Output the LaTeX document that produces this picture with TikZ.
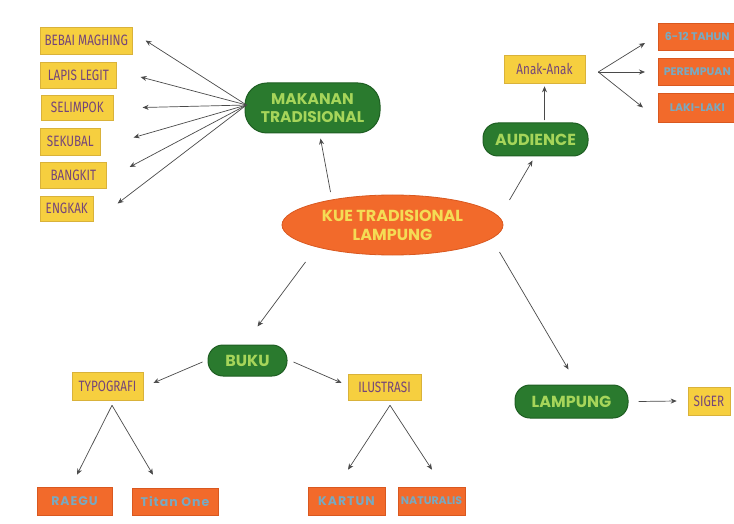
\documentclass[tikz,border=0pt]{standalone}
\usepackage{fontspec}
\setmainfont{Fira Sans}
\newfontfamily\popp{Poppins}
\newfontfamily\poppw[LetterSpace=8]{Poppins}
\newfontfamily\narrowf[FakeStretch=0.78]{Fira Sans}
\usetikzlibrary{shapes.geometric,arrows.meta,calc}
\definecolor{ylw}{HTML}{F6CF3F}
\definecolor{ylwb}{HTML}{D9B23A}
\definecolor{org}{HTML}{F26A2B}
\definecolor{orgb}{HTML}{D9581F}
\definecolor{grn}{HTML}{2A7A2E}
\definecolor{grnb}{HTML}{1E5E22}
\definecolor{lgrn}{HTML}{A6D55A}
\definecolor{ptxt}{HTML}{74457A}
\definecolor{btxt}{HTML}{79A9C0}
\definecolor{ytxt}{HTML}{F4DC55}
\definecolor{lin}{HTML}{4A4A4A}
\tikzset{
  ybox/.style={draw=ylwb, fill=ylw, line width=0.6pt, text=ptxt, font=\narrowf\fontsize{15}{16}\selectfont, inner sep=0pt},
  obox/.style={draw=orgb, fill=org, line width=0.6pt, text=btxt, font=\poppw\bfseries\fontsize{12.5}{14}\selectfont, inner sep=0pt},
  rbox/.style={obox, minimum width=78pt, anchor=west, font=\popp\bfseries\fontsize{11}{12}\selectfont},
  gbox/.style={draw=grnb, fill=grn, line width=1pt, text=lgrn, font=\popp\bfseries\fontsize{16}{18}\selectfont, rounded corners=15pt, inner sep=0pt, align=center},
  arr/.style={-{Stealth[length=6pt,width=5pt]}, draw=lin, line width=0.7pt}
}
\begin{document}
\begin{tikzpicture}[x=1pt,y=-1pt]
\clip (0,0) rectangle (734,524);
\fill[white] (0,0) rectangle (734,524);
% left boxes
\node[ybox, minimum width=92pt, minimum height=27pt, anchor=west] (b1) at (40,40.5) {BEBAI MAGHING};
\node[ybox, minimum width=76pt, minimum height=26pt, anchor=west] (b2) at (40,75) {LAPIS LEGIT};
\node[ybox, minimum width=72pt, minimum height=25pt, anchor=west] (b3) at (41,107.5) {SELIMPOK};
\node[ybox, minimum width=60pt, minimum height=27pt, anchor=west] (b4) at (40,141.5) {SEKUBAL};
\node[ybox, minimum width=66pt, minimum height=26pt, anchor=west] (b5) at (40,175) {BANGKIT};
\node[ybox, minimum width=53pt, minimum height=25pt, anchor=west] (b6) at (40,208.5) {ENGKAK};
% main nodes
\node[gbox, minimum width=135pt, minimum height=50pt, rounded corners=22pt, font=\popp\bfseries\fontsize{15.5}{18}\selectfont] (mak) at (312.5,108) {MAKANAN\\TRADISIONAL};
\node[ellipse, draw=orgb, fill=org, line width=0.8pt, minimum width=221pt, minimum height=60pt, inner sep=0pt, text=ytxt, font=\popp\bfseries\fontsize{16}{19}\selectfont, align=center] (ell) at (392.5,225) {KUE TRADISIONAL\\LAMPUNG};
\node[gbox, minimum width=105pt, minimum height=33pt] (aud) at (535.5,139.5) {AUDIENCE};
\node[ybox, minimum width=81pt, minimum height=28pt] (anak) at (544.5,69) {Anak-Anak};
\node[rbox, minimum height=27pt] (r1) at (658,36.5) {6-12 TAHUN};
\node[rbox, minimum height=27pt] (r2) at (658,71.5) {PEREMPUAN};
\node[rbox, minimum height=29pt] (r3) at (658,107.5) {LAKI-LAKI};
\node[gbox, minimum width=79pt, minimum height=31pt] (buku) at (247.5,360.5) {BUKU};
\node[ybox, minimum width=71pt, minimum height=28pt] (typo) at (107.5,386) {TYPOGRAFI};
\node[ybox, minimum width=73pt, minimum height=26pt] (ilus) at (384.5,387) {ILUSTRASI};
\node[gbox, minimum width=113pt, minimum height=33pt] (lamp) at (571.5,401.5) {LAMPUNG};
\node[ybox, minimum width=42pt, minimum height=28pt] (siger) at (709,401) {SIGER};
\node[obox, minimum width=75pt, minimum height=28pt] (raegu) at (74.5,501) {RAEGU};
\node[obox, minimum width=86pt, minimum height=27pt] (titan) at (175,501.5) {Titan One};
\node[obox, minimum width=77pt, minimum height=28pt] (kartun) at (346.5,501) {KARTUN};
\node[obox, minimum width=67pt, minimum height=28pt, font=\popp\bfseries\fontsize{11}{12}\selectfont] (nat) at (431.5,501) {NATURALIS};
% arrows from makanan
\draw[arr] ($(mak.west)+(2,-3)$) -- ($(b1.east)+(13,0)$);
\draw[arr] ($(mak.west)+(2,-3)$) -- ($(b2.east)+(24,2)$);
\draw[arr] ($(mak.west)+(2,-3)$) -- ($(b3.east)+(29,0)$);
\draw[arr] ($(mak.west)+(2,-3)$) -- ($(b4.east)+(33,-4)$);
\draw[arr] ($(mak.west)+(2,-3)$) -- ($(b5.east)+(23,-8)$);
\draw[arr] ($(mak.west)+(2,-3)$) -- ($(b6.east)+(24,-5)$);
% from ellipse
\draw[arr] ($(ell.center)+(-62,-33)$) -- ($(mak.south)+(8,5)$);
\draw[arr] ($(ell.center)+(117,-25)$) -- ($(aud.south)+(-3,4)$);
\draw[arr] ($(ell.center)+(-87,37)$) -- ($(buku.north)+(10,-18)$);
\draw[arr] ($(ell.center)+(107,27)$) -- ($(lamp.north)+(-3,-15)$);
% audience
\draw[arr] ($(aud.north)+(9,-2)$) -- ($(anak.south)+(0,3)$);
\draw[arr] ($(anak.east)+(13,3)$) -- ($(r1.west)+(-13,6.5)$);
\draw[arr] ($(anak.east)+(13,3)$) -- ($(r2.west)+(-13,0.5)$);
\draw[arr] ($(anak.east)+(13,3)$) -- ($(r3.west)+(-15,0)$);
% buku
\draw[arr] ($(buku.west)+(-5,1.5)$) -- ($(typo.east)+(10,-3)$);
\draw[arr] ($(buku.east)+(6,1.5)$) -- ($(ilus.west)+(-6,-4)$);
\draw[arr] ($(typo.south)+(4.5,5)$) -- ($(raegu.north)+(2.5,-12)$);
\draw[arr] ($(typo.south)+(4.5,5)$) -- ($(titan.north)+(-22,-13)$);
\draw[arr] ($(ilus.south)+(5.5,5)$) -- ($(kartun.north)+(1.5,-17)$);
\draw[arr] ($(ilus.south)+(5.5,5)$) -- ($(nat.north)+(0.5,-17)$);
% lampung
\draw[arr] ($(lamp.east)+(10,0)$) -- ($(siger.west)+(-11,0)$);
\end{tikzpicture}
\end{document}
